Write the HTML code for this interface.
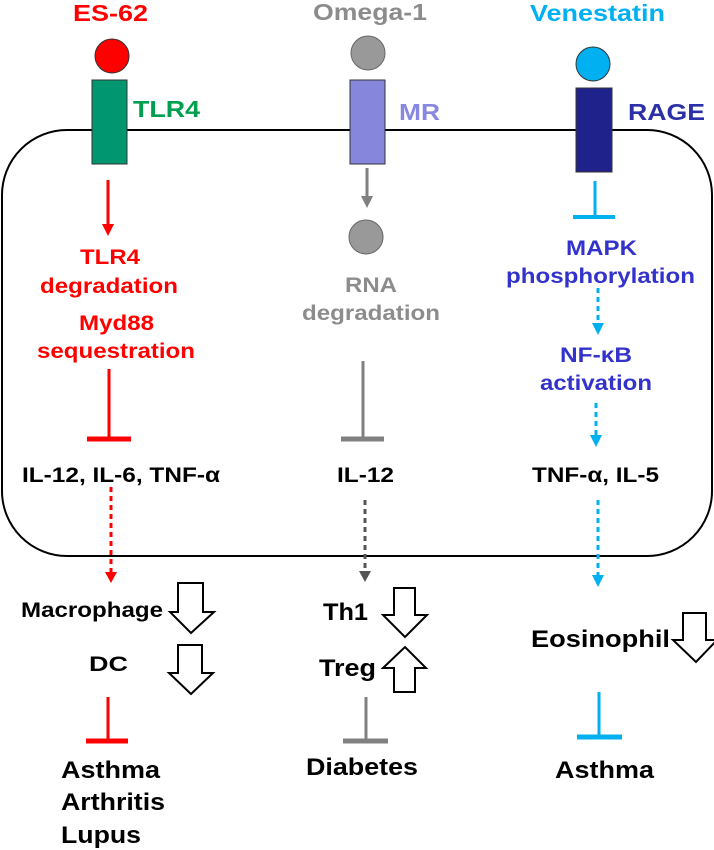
<!DOCTYPE html>
<html><head><meta charset="utf-8"><style>
html,body{margin:0;padding:0;background:#fff;}
svg{display:block;}
text{font-family:"Liberation Sans",Arial,sans-serif;font-weight:bold;}
</style></head><body>
<svg width="714" height="850" viewBox="0 0 714 850" xmlns="http://www.w3.org/2000/svg">
<defs>
<marker id="ar" markerWidth="8" markerHeight="8" refX="4" refY="4" orient="auto" markerUnits="userSpaceOnUse" viewBox="0 0 8 8"><path d="M0,0 L8,4 L0,8z" fill="#ff0000"/></marker>
</defs>
<!-- cell -->
<path d="M67,130 L647,130 A65,65 0 0 1 712,195 L712,491 A65,65 0 0 1 647,556 L67,556 A65,65 0 0 1 2,491 L2,195 A65,65 0 0 1 67,130 Z" fill="none" stroke="#000" stroke-width="2"/>
<!-- ligands -->
<circle cx="112" cy="56" r="17" fill="#ff0000" stroke="#333" stroke-width="1"/>
<circle cx="368" cy="53" r="17" fill="#999" stroke="#666" stroke-width="1"/>
<circle cx="593" cy="64" r="17" fill="#00b0f0" stroke="#333" stroke-width="1"/>
<!-- receptors -->
<rect x="92" y="80" width="35" height="84" fill="#009670" stroke="#333" stroke-width="1"/>
<rect x="350" y="80" width="35" height="84" fill="#8686dd" stroke="#333" stroke-width="1"/>
<rect x="576" y="88" width="36" height="84" fill="#1f228a" stroke="#333" stroke-width="1"/>
<!-- top labels -->
<text x="73" y="21" font-size="23" fill="#ff0000" textLength="75" lengthAdjust="spacingAndGlyphs">ES-62</text>
<text x="313" y="20" font-size="23" fill="#8c8c8c" textLength="114" lengthAdjust="spacingAndGlyphs">Omega-1</text>
<text x="530" y="21" font-size="23" fill="#00b0f0" textLength="135" lengthAdjust="spacingAndGlyphs">Venestatin</text>
<text x="133" y="117" font-size="23" fill="#00a050" textLength="67" lengthAdjust="spacingAndGlyphs">TLR4</text>
<text x="399" y="120" font-size="23" fill="#8888e0" textLength="41" lengthAdjust="spacingAndGlyphs">MR</text>
<text x="628" y="120" font-size="23" fill="#2b2fa8" textLength="77" lengthAdjust="spacingAndGlyphs">RAGE</text>
<!-- red column -->
<line x1="108" y1="180" x2="108" y2="226" stroke="#ff0000" stroke-width="3"/>
<path d="M102,224 L114,224 L108,236 Z" fill="#ff0000"/>
<text x="80" y="264" font-size="21" fill="#ff0000" textLength="60" lengthAdjust="spacingAndGlyphs">TLR4</text>
<text x="40" y="293" font-size="21" fill="#ff0000" textLength="138" lengthAdjust="spacingAndGlyphs">degradation</text>
<text x="79" y="330" font-size="21" fill="#ff0000" textLength="75" lengthAdjust="spacingAndGlyphs">Myd88</text>
<text x="37" y="358" font-size="21" fill="#ff0000" textLength="158" lengthAdjust="spacingAndGlyphs">sequestration</text>
<line x1="109" y1="369" x2="109" y2="439" stroke="#ff0000" stroke-width="3"/>
<line x1="87" y1="439" x2="131" y2="439" stroke="#ff0000" stroke-width="5"/>
<text x="22" y="482" font-size="21" fill="#000" textLength="198" lengthAdjust="spacingAndGlyphs">IL-12, IL-6, TNF-α</text>
<line x1="111" y1="487" x2="111" y2="572" stroke="#ff0000" stroke-width="3" stroke-dasharray="5,4"/>
<path d="M105,572 L117,572 L111,583 Z" fill="#ff0000"/>
<!-- grey column -->
<line x1="367" y1="168" x2="367" y2="198" stroke="#808080" stroke-width="3"/>
<path d="M361,196 L373,196 L367,208 Z" fill="#808080"/>
<circle cx="366" cy="237" r="17" fill="#999" stroke="#666" stroke-width="1"/>
<text x="345" y="292" font-size="21" fill="#8c8c8c" textLength="52" lengthAdjust="spacingAndGlyphs">RNA</text>
<text x="302" y="320" font-size="21" fill="#8c8c8c" textLength="138" lengthAdjust="spacingAndGlyphs">degradation</text>
<line x1="363" y1="361" x2="363" y2="439" stroke="#808080" stroke-width="3"/>
<line x1="341" y1="439" x2="384" y2="439" stroke="#808080" stroke-width="5"/>
<text x="337" y="482" font-size="21" fill="#000" textLength="57" lengthAdjust="spacingAndGlyphs">IL-12</text>
<line x1="365" y1="500" x2="365" y2="572" stroke="#555" stroke-width="3" stroke-dasharray="5,4"/>
<path d="M359,571 L371,571 L365,582 Z" fill="#555"/>
<!-- cyan column -->
<line x1="595" y1="181" x2="595" y2="217" stroke="#00b0f0" stroke-width="3"/>
<line x1="573" y1="217" x2="615" y2="217" stroke="#00b0f0" stroke-width="4"/>
<text x="566" y="255" font-size="21" fill="#3333cc" textLength="71" lengthAdjust="spacingAndGlyphs">MAPK</text>
<text x="506" y="283" font-size="21" fill="#3333cc" textLength="189" lengthAdjust="spacingAndGlyphs">phosphorylation</text>
<line x1="598" y1="288" x2="598" y2="324" stroke="#00b0f0" stroke-width="3" stroke-dasharray="5,4"/>
<path d="M592,323 L604,323 L598,335 Z" fill="#00b0f0"/>
<text x="560" y="362" font-size="21" fill="#3333cc" textLength="72" lengthAdjust="spacingAndGlyphs">NF-κB</text>
<text x="540" y="390" font-size="21" fill="#3333cc" textLength="112" lengthAdjust="spacingAndGlyphs">activation</text>
<line x1="596" y1="403" x2="596" y2="436" stroke="#00b0f0" stroke-width="3" stroke-dasharray="5,4"/>
<path d="M590,435 L602,435 L596,447 Z" fill="#00b0f0"/>
<text x="532" y="482" font-size="21" fill="#000" textLength="127" lengthAdjust="spacingAndGlyphs">TNF-α, IL-5</text>
<line x1="598" y1="500" x2="598" y2="576" stroke="#00b0f0" stroke-width="3" stroke-dasharray="5,4"/>
<path d="M592,575 L604,575 L598,587 Z" fill="#00b0f0"/>
<!-- bottom left -->
<text x="21" y="617" font-size="21" fill="#000" textLength="142" lengthAdjust="spacingAndGlyphs">Macrophage</text>
<path d="M178,583 L203,583 L203,612 L214,612 L191,633 L170,612 L178,612 Z" fill="#fff" stroke="#000" stroke-width="2"/>
<text x="89" y="671" font-size="21" fill="#000" textLength="39" lengthAdjust="spacingAndGlyphs">DC</text>
<path d="M178,645 L202,645 L202,673 L213,673 L191,694 L169,673 L178,673 Z" fill="#fff" stroke="#000" stroke-width="2"/>
<line x1="108" y1="697" x2="108" y2="741" stroke="#ff0000" stroke-width="3"/>
<line x1="86" y1="741" x2="128" y2="741" stroke="#ff0000" stroke-width="5"/>
<text x="61" y="778" font-size="24" fill="#000" textLength="99" lengthAdjust="spacingAndGlyphs">Asthma</text>
<text x="61" y="810" font-size="24" fill="#000" textLength="104" lengthAdjust="spacingAndGlyphs">Arthritis</text>
<text x="61" y="843" font-size="24" fill="#000" textLength="80" lengthAdjust="spacingAndGlyphs">Lupus</text>
<!-- bottom middle -->
<text x="323" y="620" font-size="24" fill="#000" textLength="45" lengthAdjust="spacingAndGlyphs">Th1</text>
<path d="M394,588 L415,588 L415,615 L427,615 L405,637 L383,615 L394,615 Z" fill="#fff" stroke="#000" stroke-width="2"/>
<text x="319" y="676" font-size="24" fill="#000" textLength="57" lengthAdjust="spacingAndGlyphs">Treg</text>
<path d="M394,692 L415,692 L415,668 L426,668 L405,647 L383,668 L394,668 Z" fill="#fff" stroke="#000" stroke-width="2"/>
<line x1="366" y1="697" x2="366" y2="741" stroke="#808080" stroke-width="3"/>
<line x1="343" y1="741" x2="388" y2="741" stroke="#808080" stroke-width="5"/>
<text x="306" y="775" font-size="24" fill="#000" textLength="112" lengthAdjust="spacingAndGlyphs">Diabetes</text>
<!-- bottom right -->
<text x="531" y="647" font-size="24" fill="#000" textLength="139" lengthAdjust="spacingAndGlyphs">Eosinophil</text>
<path d="M683,613 L706,613 L706,640 L717,640 L696,662 L673,640 L683,640 Z" fill="#fff" stroke="#000" stroke-width="2"/>
<line x1="599" y1="692" x2="599" y2="737" stroke="#00b0f0" stroke-width="3"/>
<line x1="577" y1="737" x2="622" y2="737" stroke="#00b0f0" stroke-width="5"/>
<text x="555" y="778" font-size="24" fill="#000" textLength="99" lengthAdjust="spacingAndGlyphs">Asthma</text>
</svg>
</body></html>
